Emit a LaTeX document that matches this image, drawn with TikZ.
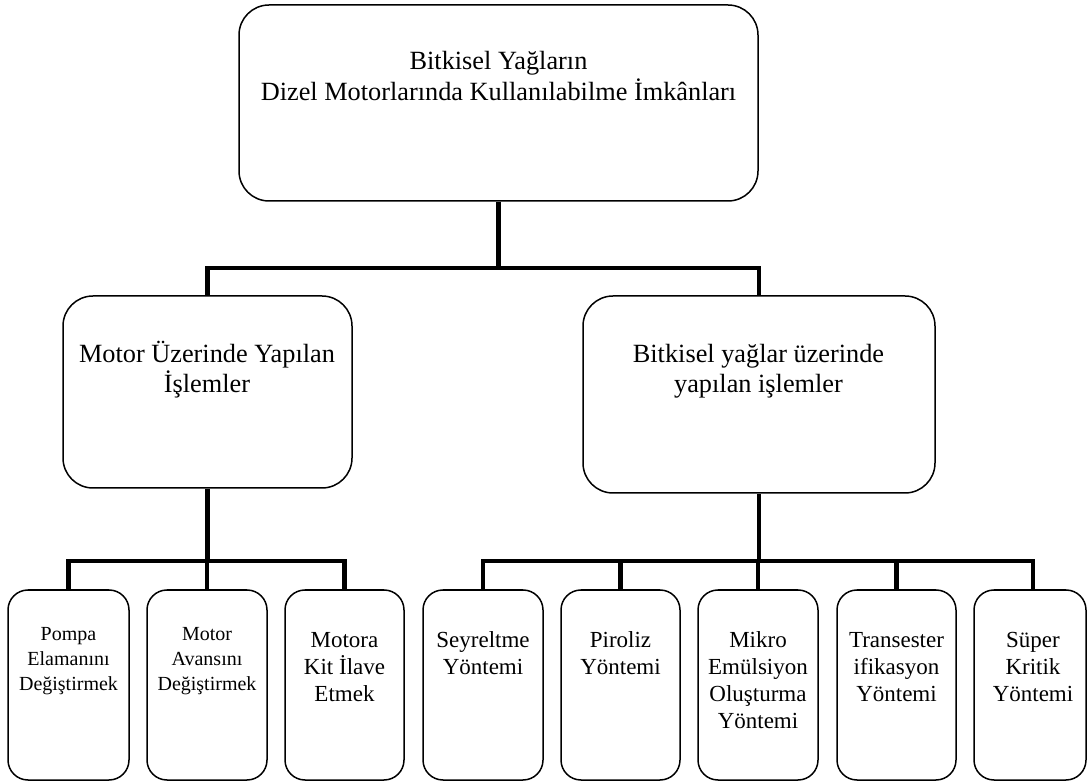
\documentclass[tikz,border=0pt]{standalone}
\usepackage{fontspec}
\setmainfont{Liberation Serif}
\begin{document}
\begin{tikzpicture}[x=1pt,y=-1pt,
  box/.style={draw=black, line width=1.5pt, inner sep=0pt, fill=white},
  bigbox/.style={box, rounded corners=30pt},
  smallbox/.style={box, rounded corners=20pt, minimum height=190pt},
  conn/.style={draw=black, line width=4.7pt, line join=miter},
  tbig/.style={inner sep=0pt, anchor=base, font=\fontsize{26.3}{30}\selectfont},
  tmid/.style={inner sep=0pt, anchor=base, font=\fontsize{23}{26}\selectfont},
  tsmall/.style={inner sep=0pt, anchor=base, font=\fontsize{20}{23}\selectfont}]
\useasboundingbox (0,0) rectangle (1088,783);
\fill[white] (0,0) rectangle (1088,783);

% boxes
\node[bigbox, minimum width=519pt, minimum height=196pt] (top) at (498.5,103) {};
\node[bigbox, minimum width=289pt, minimum height=192pt] (left) at (207.5,392) {};
\node[bigbox, minimum width=352pt, minimum height=197pt] (right) at (759,394.5) {};

\node[smallbox, minimum width=121pt] (b1) at (68.5,685) {};
\node[smallbox, minimum width=120pt] (b2) at (207,685) {};
\node[smallbox, minimum width=119pt] (b3) at (344.5,685) {};
\node[smallbox, minimum width=120pt] (b4) at (483,685) {};
\node[smallbox, minimum width=119pt] (b5) at (620.5,685) {};
\node[smallbox, minimum width=120pt] (b6) at (758,685) {};
\node[smallbox, minimum width=119pt] (b7) at (896.5,685) {};
\node[smallbox, minimum width=112pt] (b8) at (1030,685) {};
\coordinate (b8top) at (1033,590);

% connectors
\coordinate (busA) at (0,268);
\coordinate (busB) at (0,561);
\draw[conn] (top.south) -- (top.south |- busA);
\draw[conn] (left.north) -- (left.north |- busA) -- (right.north |- busA) -- (right.north);

\draw[conn] (left.south) -- (left.south |- busB);
\draw[conn] (b1.north) -- (b1.north |- busB) -- (b3.north |- busB) -- (b3.north);
\draw[conn] (b2.north) -- (b2.north |- busB);

\draw[conn] (right.south) -- (right.south |- busB);
\draw[conn] (b4.north) -- (b4.north |- busB) -- (b8top |- busB) -- (b8top);
\draw[conn] (b5.north) -- (b5.north |- busB);
\draw[conn] (b6.north) -- (b6.north |- busB);
\draw[conn] (b7.north) -- (b7.north |- busB);

% texts
\node[tbig] (t0a) at (498.5,70) {Bitkisel Yağların};
\node[tbig] (t0b) at (498.5,101) {Dizel Motorlarında Kullanılabilme İmkânları};

\node[tbig] (t1a) at (207,363) {Motor Üzerinde Yapılan};
\node[tbig] (t1b) at (207,393) {İşlemler};

\node[tbig] (t2a) at (758.5,363) {Bitkisel yağlar üzerinde};
\node[tbig] (t2b) at (758.5,393) {yapılan işlemler};

\node[tsmall] (p1) at (68.5,640) {Pompa};
\node[tsmall] (p2) at (68.5,665) {Elamanını};
\node[tsmall] (p3) at (68.5,690) {Değiştirmek};

\node[tsmall] (a1) at (207,640) {Motor};
\node[tsmall] (a2) at (207,665) {Avansını};
\node[tsmall] (a3) at (207,690) {Değiştirmek};

\node[tmid] (k1) at (344.5,647) {Motora};
\node[tmid] (k2) at (344.5,674) {Kit İlave};
\node[tmid] (k3) at (344.5,701) {Etmek};

\node[tmid] (s1) at (483,647) {Seyreltme};
\node[tmid] (s2) at (483,674) {Yöntemi};

\node[tmid] (r1) at (620.5,647) {Piroliz};
\node[tmid] (r2) at (620.5,674) {Yöntemi};

\node[tmid] (m1) at (758,647) {Mikro};
\node[tmid] (m2) at (758,674) {Emülsiyon};
\node[tmid] (m3) at (758,701) {Oluşturma};
\node[tmid] (m4) at (758,728) {Yöntemi};

\node[tmid] (e1) at (896.5,647) {Transester};
\node[tmid] (e2) at (896.5,674) {ifikasyon};
\node[tmid] (e3) at (896.5,701) {Yöntemi};

\node[tmid] (u1) at (1033,647) {Süper};
\node[tmid] (u2) at (1033,674) {Kritik};
\node[tmid] (u3) at (1033,701) {Yöntemi};
\end{tikzpicture}
\end{document}
